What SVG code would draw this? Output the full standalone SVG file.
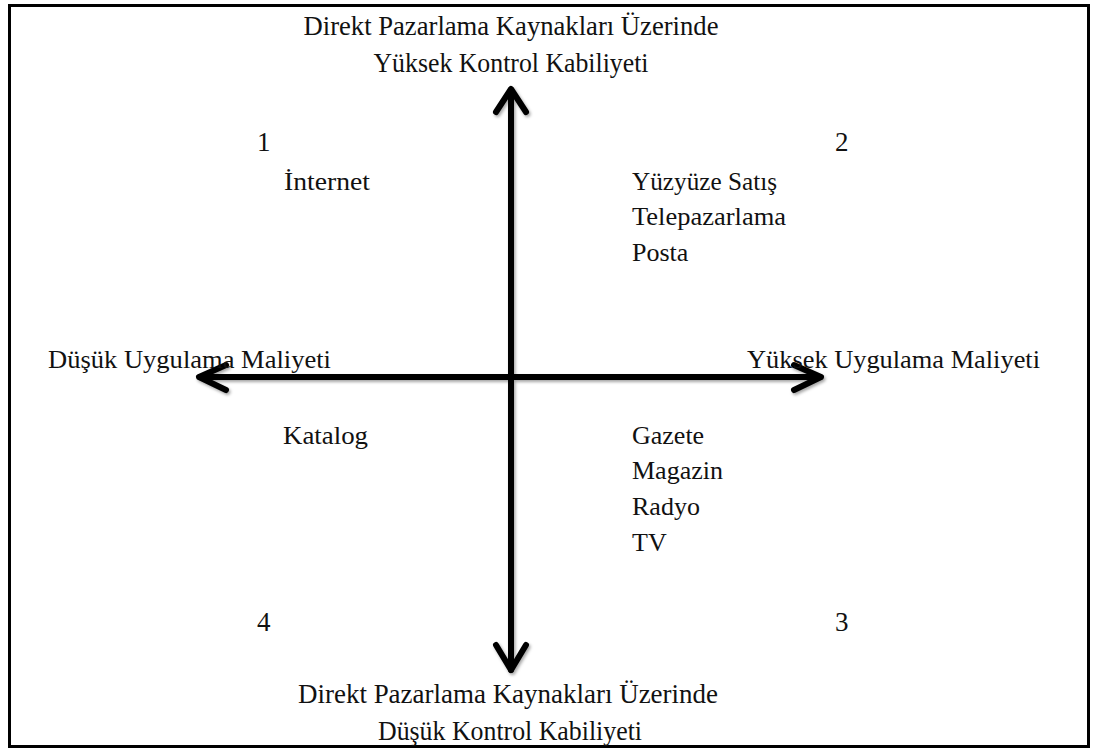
<svg xmlns="http://www.w3.org/2000/svg" width="1094" height="749" viewBox="0 0 1094 749">
  <defs>
    <style>
      text { font-family: "Liberation Serif", "Times New Roman", serif; font-size: 26px; fill: #111; }
      .mid { text-anchor: middle; }
      .title { font-size: 28px; }
      .num { font-size: 27px; }
      .axis { stroke: #000; stroke-width: 6; fill: none; stroke-linecap: round; stroke-linejoin: round; }
    </style>
    <filter id="soft" x="-10%" y="-10%" width="120%" height="120%">
      <feDropShadow dx="1.5" dy="2" stdDeviation="1.5" flood-color="#000" flood-opacity="0.35"/>
    </filter>
  </defs>

  <rect x="0" y="0" width="1094" height="749" fill="#fff"/>
  <!-- frame -->
  <rect x="9.5" y="5.5" width="1079" height="741" fill="none" stroke="#000" stroke-width="3"/>

  <!-- axes with chevron heads -->
  <g id="connectors" filter="url(#soft)">
    <path class="axis" d="M511 90 V670"/>
    <path class="axis" d="M496 112 L511 89 L526 112"/>
    <path class="axis" d="M496 645 L511 670 L526 645"/>
    <path class="axis" d="M200 377 H820"/>
    <path class="axis" d="M226 365 L199 377 L226 390"/>
    <path class="axis" d="M794 365 L821 377 L794 390"/>
  </g>

  <g id="axis-top">
    <text class="mid title" x="511" y="35" textLength="415" lengthAdjust="spacingAndGlyphs">Direkt Pazarlama Kaynakları Üzerinde</text>
    <text class="mid title" x="511" y="72" textLength="275" lengthAdjust="spacingAndGlyphs">Yüksek Kontrol Kabiliyeti</text>
  </g>
  <g id="axis-bottom">
    <text class="mid title" x="508" y="703" textLength="420" lengthAdjust="spacingAndGlyphs">Direkt Pazarlama Kaynakları Üzerinde</text>
    <text class="mid title" x="510" y="740" textLength="264" lengthAdjust="spacingAndGlyphs">Düşük Kontrol Kabiliyeti</text>
  </g>
  <g id="axis-left">
    <text x="48" y="368" textLength="283" lengthAdjust="spacingAndGlyphs">Düşük Uygulama Maliyeti</text>
  </g>
  <g id="axis-right">
    <text x="747" y="368" textLength="293" lengthAdjust="spacingAndGlyphs">Yüksek Uygulama Maliyeti</text>
  </g>

  <g id="quadrant-1">
    <text class="num" x="257" y="151">1</text>
    <text x="284" y="190" textLength="86" lengthAdjust="spacingAndGlyphs">İnternet</text>
  </g>
  <g id="quadrant-2">
    <text class="num" x="835" y="151">2</text>
    <text x="632" y="190" textLength="145" lengthAdjust="spacingAndGlyphs">Yüzyüze Satış</text>
    <text x="632" y="225" textLength="154" lengthAdjust="spacingAndGlyphs">Telepazarlama</text>
    <text x="632" y="261">Posta</text>
  </g>
  <g id="quadrant-3">
    <text class="num" x="835" y="631">3</text>
    <text x="632" y="444">Gazete</text>
    <text x="632" y="479">Magazin</text>
    <text x="632" y="515">Radyo</text>
    <text x="632" y="551">TV</text>
  </g>
  <g id="quadrant-4">
    <text class="num" x="257" y="631">4</text>
    <text x="283" y="444" textLength="85" lengthAdjust="spacingAndGlyphs">Katalog</text>
  </g>
</svg>
